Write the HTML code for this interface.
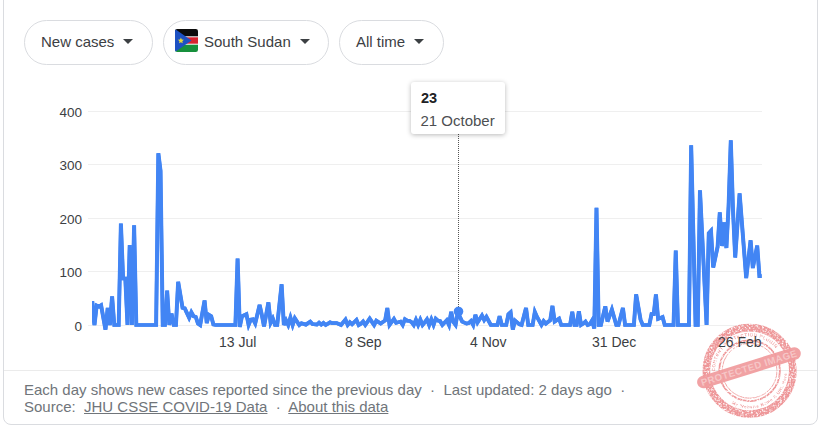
<!DOCTYPE html>
<html><head><meta charset="utf-8">
<style>
html,body{margin:0;padding:0;background:#fff;}
body{width:821px;height:428px;position:relative;overflow:hidden;font-family:"Liberation Sans",sans-serif;color:#3c4043;}
.card{position:absolute;left:3px;top:-10px;width:815px;height:435px;border:1px solid #dadce0;border-radius:8px;box-sizing:border-box;}
.pill{position:absolute;top:20px;height:45px;border:1px solid #dadce0;border-radius:23px;box-sizing:border-box;font-size:15px;color:#3c4043;}
.pill span{position:absolute;top:12px;white-space:nowrap;}
.arr{position:absolute;top:18px;width:0;height:0;border-left:5px solid transparent;border-right:5px solid transparent;border-top:5px solid #3c4043;}
.yl{position:absolute;left:50px;width:32px;text-align:right;font-size:13.5px;color:#3c4043;}
.xl{position:absolute;top:334px;font-size:14px;color:#3c4043;white-space:nowrap;}
.foot{position:absolute;left:24px;font-size:15px;color:#70757a;white-space:nowrap;}
.foot u{color:#70757a;}
.div{position:absolute;left:4px;width:813px;top:370px;height:1px;background:#ebebeb;}
.tip{position:absolute;left:411px;top:82px;width:94px;height:52px;background:#fff;border-radius:3px;box-shadow:0 1px 5px rgba(0,0,0,.28);}
.tip b{position:absolute;left:10px;top:8px;font-size:14.5px;color:#202124;}
.tip i{position:absolute;left:9.5px;top:29.5px;font-size:15px;font-style:normal;color:#4d4f52;white-space:nowrap;}
</style></head><body>
<div class="card"></div>
<div class="pill" style="left:24px;width:129px;"><span style="left:16px">New cases</span><div class="arr" style="left:98px"></div></div>
<div class="pill" style="left:163px;width:166px;"><span style="left:40px">South Sudan</span><div class="arr" style="left:136px"></div></div>
<div class="pill" style="left:339px;width:105px;"><span style="left:16px">All time</span><div class="arr" style="left:74px"></div></div>

<svg width="821" height="428" style="position:absolute;left:0;top:0">
<defs><clipPath id="cp"><rect x="92" y="100" width="672" height="240"/></clipPath></defs>
<g stroke="#efefef" stroke-width="1">
<line x1="88" x2="762" y1="111.5" y2="111.5"/>
<line x1="88" x2="762" y1="164.5" y2="164.5"/>
<line x1="88" x2="762" y1="218.5" y2="218.5"/>
<line x1="88" x2="762" y1="271.5" y2="271.5"/>
<line x1="88" x2="762" y1="325.5" y2="325.5"/>
</g>
<line x1="458.5" x2="458.5" y1="134" y2="308" stroke="#555" stroke-width="1" stroke-dasharray="1,1"/>
<g clip-path="url(#cp)" fill="none" stroke="#4285f4" stroke-width="3.7"><path id="ln" d="M90.20,325.0 L92.40,301.2 L94.60,325.0 L96.80,305.6 L99.01,306.6 L101.21,305.3 L105.61,329.6 L107.81,308.0 L110.01,325.0 L112.22,296.5 L114.42,325.0 L118.82,325.0 L121.02,223.5 L123.23,278.5 L125.43,278.5 L127.63,325.0 L129.83,245.0 L132.03,325.0 L134.23,225.3 L136.44,325.0 L156.25,325.0 L158.45,153.3 L160.66,171.0 L162.86,325.0 L165.06,325.0 L167.26,290.7 L169.46,325.0 L171.66,313.5 L173.87,325.0 L176.07,325.0 L178.27,281.8 L182.67,307.8 L184.88,308.4 L189.28,317.8 L191.48,312.3 L193.68,316.2 L195.88,316.9 L198.09,323.5 L200.29,325.0 L204.69,300.5 L206.89,323.0 L209.10,314.9 L211.30,316.2 L213.50,324.5 L215.70,325.0 L235.52,325.0 L237.72,258.5 L239.92,327.0 L242.12,316.2 L246.53,314.2 L248.73,325.0 L250.93,319.6 L253.13,319.2 L255.33,323.5 L259.74,305.0 L261.94,314.9 L264.14,326.5 L268.54,302.4 L270.75,322.9 L272.95,318.5 L275.15,325.0 L277.35,325.0 L281.75,284.3 L283.96,325.0 L286.16,320.3 L288.36,325.0 L290.56,317.6 L292.76,325.0 L294.97,318.2 L299.37,325.0 L301.57,323.2 L305.97,324.6 L310.38,321.6 L312.58,324.0 L316.98,324.6 L319.19,322.7 L321.39,324.6 L323.59,323.0 L325.79,325.0 L330.19,322.3 L332.40,323.2 L336.80,323.0 L341.20,325.0 L345.61,319.6 L347.81,325.0 L350.01,322.3 L352.21,324.3 L356.62,320.0 L358.82,325.0 L361.02,323.7 L363.22,321.5 L365.42,325.0 L369.83,318.6 L374.23,325.0 L376.43,320.6 L380.84,323.6 L385.24,320.5 L387.44,308.0 L389.64,325.0 L394.05,318.9 L396.25,322.9 L400.65,321.6 L402.85,325.0 L405.06,319.2 L407.26,320.6 L409.46,320.8 L411.66,322.2 L413.86,325.0 L416.06,319.7 L418.27,325.0 L420.47,319.7 L422.67,325.0 L424.87,322.3 L427.07,319.3 L429.28,325.0 L431.48,319.3 L433.68,325.0 L435.88,318.7 L438.08,320.6 L440.28,321.2 L442.49,325.0 L446.89,320.3 L449.09,325.0 L451.29,311.8 L453.50,322.0 L455.70,325.0 L457.90,312.5 L462.30,321.6 L466.71,323.6 L468.91,323.0 L471.11,320.9 L473.31,325.0 L475.51,314.9 L477.72,322.3 L482.12,315.5 L484.32,320.0 L486.52,316.8 L490.93,325.0 L497.53,325.0 L499.73,316.1 L501.93,325.0 L506.34,325.0 L508.54,314.2 L510.74,312.2 L512.94,329.5 L515.15,320.5 L519.55,324.3 L521.75,325.0 L526.15,308.0 L528.36,325.0 L532.76,325.0 L534.96,312.0 L537.16,317.0 L541.57,325.0 L543.77,321.0 L545.97,323.6 L550.37,320.3 L552.58,305.9 L554.78,321.5 L559.18,318.6 L561.38,325.0 L570.19,325.0 L572.39,311.8 L574.59,325.0 L576.80,325.0 L579.00,311.3 L581.20,325.0 L583.40,323.6 L585.60,321.6 L587.80,325.0 L590.01,324.3 L592.21,320.5 L594.41,328.5 L596.61,207.8 L598.81,325.0 L601.02,325.0 L605.42,306.3 L607.62,321.6 L612.02,309.5 L616.43,325.0 L618.63,325.0 L623.03,308.0 L625.24,325.0 L634.04,325.0 L636.24,294.3 L640.65,319.6 L642.85,325.0 L649.46,325.0 L651.66,314.2 L653.86,314.2 L656.06,294.5 L658.26,318.9 L662.67,317.0 L664.87,325.0 L673.68,325.0 L675.88,250.5 L678.08,325.0 L689.09,325.0 L691.29,145.3 L695.69,325.0 L697.89,325.0 L700.10,190.3 L706.70,325.0 L708.90,233.2 L711.11,230.8 L713.31,267.5 L717.71,247.0 L719.91,212.4 L722.11,246.0 L724.32,222.4 L726.52,248.0 L728.72,206.0 L730.92,140.3 L733.12,210.0 L735.33,257.5 L739.73,193.3 L746.33,278.0 L750.74,240.3 L752.94,268.0 L757.34,245.7 L759.55,276.2 L761.75,276.2" transform="translate(-0.25,0)"/><use href="#ln" transform="translate(0.25,0)"/></g>
<circle cx="458.5" cy="311.5" r="4.8" fill="#4285f4"/>
</svg>
<div class="div"></div>
<svg width="821" height="428" style="position:absolute;left:0;top:0">
<defs>
<filter id="gr" x="-10%" y="-10%" width="120%" height="120%">
<feTurbulence type="fractalNoise" baseFrequency="0.55" numOctaves="2" seed="4" result="n"/>
<feColorMatrix in="n" type="matrix" values="0 0 0 0 0  0 0 0 0 0  0 0 0 0 0  -3.0 0 0 0 2.35" result="m"/>
<feComposite in="SourceGraphic" in2="m" operator="in"/>
</filter>
<path id="arcT" d="M-34.5,0 A34.5,34.5 0 0 1 34.5,0"/>
<path id="arcB" d="M-37.5,0 A37.5,37.5 0 0 0 37.5,0"/>
</defs>
<g transform="translate(749.6,370.8)" filter="url(#gr)" fill="none" stroke="#ee9799">
<circle r="43.2" stroke-width="7.6"/>
<circle r="30.3" stroke-width="1.8"/>
<circle r="27.4" stroke-width="0.9"/>
<g stroke="none" fill="#ee9799" font-family="Liberation Sans, sans-serif" font-weight="bold" font-size="4.6" letter-spacing="0.5">
<text transform="rotate(-8)"><textPath href="#arcT" startOffset="4">CONTENT PROTECTION PLUGIN</textPath></text>
<text transform="rotate(-12)" font-size="4.2" letter-spacing="0.6"><textPath href="#arcB" startOffset="32">My Website Name &amp; URL Here</textPath></text>
</g>
</g>
<g transform="translate(748.95,367.75) rotate(-17.4)">
<rect x="-54" y="-6.3" width="108" height="12.6" rx="6.3" fill="#f09b9d" fill-opacity="0.93"/>
<text x="0" y="3.5" text-anchor="middle" font-family="Liberation Sans, sans-serif" font-weight="bold" font-size="9.6" letter-spacing="0.45" fill="#f6c6c7">PROTECTED IMAGE</text>
</g>
</svg>
<div class="yl" style="top:104.5px">400</div>
<div class="yl" style="top:157.5px">300</div>
<div class="yl" style="top:211.5px">200</div>
<div class="yl" style="top:264.5px">100</div>
<div class="yl" style="top:318.5px">0</div>
<div class="xl" style="left:219px">13 Jul</div>
<div class="xl" style="left:345px">8 Sep</div>
<div class="xl" style="left:470px">4 Nov</div>
<div class="xl" style="left:592px">31 Dec</div>
<div class="xl" style="left:718px">26 Feb</div>
<svg width="23" height="23" viewBox="0 0 23 23" style="position:absolute;left:175px;top:29px">
<defs><clipPath id="fc"><rect x="0" y="0" width="23" height="23" rx="2.2"/></clipPath></defs>
<g clip-path="url(#fc)">
<rect width="23" height="23" fill="#fff"/>
<rect width="23" height="7.3" fill="#0c0c0c"/>
<rect y="8.3" width="23" height="6.4" fill="#d8232f"/>
<rect y="15.7" width="23" height="7.3" fill="#17903c"/>
<path d="M0,0 L16.5,11.5 L0,23 Z" fill="#1d51c2"/>
<path transform="translate(5.9,11.4) scale(1.25) translate(-5.9,-11.4)" d="M5.9,9.0 l0.7,1.6 1.7,0.2 -1.3,1.2 0.4,1.7 -1.5,-0.9 -1.5,0.9 0.4,-1.7 -1.3,-1.2 1.7,-0.2z" fill="#e6d93a"/>
</g></svg>
<div class="tip"><b>23</b><i>21 October</i></div>
<div class="foot" style="top:381px">Each day shows new cases reported since the previous day &nbsp;·&nbsp; Last updated: 2 days ago &nbsp;·</div>
<div class="foot" style="top:398px">Source: &nbsp;<u>JHU CSSE COVID-19 Data</u> &nbsp;·&nbsp; <u>About this data</u></div>
</body></html>
